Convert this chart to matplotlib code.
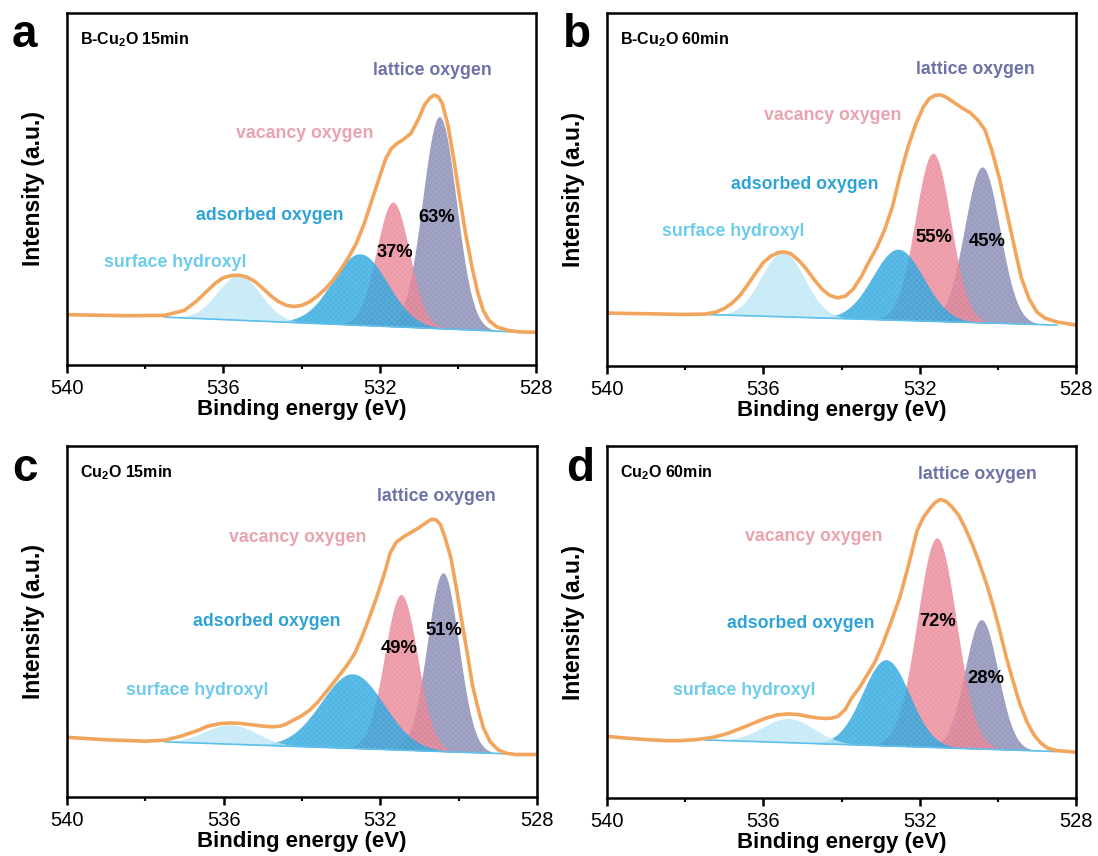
import numpy as np
import matplotlib
matplotlib.use("Agg")
import matplotlib.pyplot as plt

plt.rcParams['font.family'] = ['Liberation Sans', 'DejaVu Sans']
plt.rcParams['mathtext.fontset'] = 'custom'
plt.rcParams['mathtext.rm'] = 'Liberation Sans'
plt.rcParams['mathtext.bf'] = 'Liberation Sans:bold'
plt.rcParams['hatch.linewidth'] = 0.3

# binding energy axis, y in arbitrary units (0 = bottom of box, 100 = top)
titles = [r'B-Cu$_\mathbf{2}$O 15min', r'B-Cu$_\mathbf{2}$O 60min',
          r'Cu$_\mathbf{2}$O 15min', r'Cu$_\mathbf{2}$O 60min']
letters = ['a', 'b', 'c', 'd']
names = ['surface hydroxyl', 'adsorbed oxygen', 'vacancy oxygen', 'lattice oxygen']

env_a_x = [540.0, 538.5, 537.5, 537.0, 536.7, 536.4, 536.2, 536.0, 535.8, 535.6, 535.4, 535.2,
           535.0, 534.8, 534.6, 534.4, 534.2, 534.0, 533.8, 533.6, 533.4, 533.2, 533.0, 532.8,
           532.6, 532.4, 532.2, 532.0, 531.85, 531.7, 531.55, 531.4, 531.2, 531.0, 530.85,
           530.7, 530.6, 530.5, 530.4, 530.25, 530.1, 529.95, 529.8, 529.65, 529.5, 529.35,
           529.2, 529.0, 528.7, 528.4, 528.0]
env_a_y = [14.3, 14.0, 14.1, 15.5, 18.0, 21.2, 23.3, 24.8, 25.4, 25.5, 25.0, 23.8,
           21.9, 19.8, 18.1, 17.0, 16.6, 16.9, 17.9, 19.5, 21.5, 24.0, 27.0, 30.5,
           34.5, 40.0, 46.8, 53.5, 58.5, 61.5, 63.0, 64.0, 65.8, 70.0, 74.0,
           76.0, 76.7, 76.2, 74.4, 68.0, 58.2, 47.5, 37.3, 28.5, 21.0, 15.5,
           12.6, 10.8, 9.8, 9.4, 9.3]

env_b_x = [540.0, 539.0, 538.0, 537.5, 537.2, 537.0, 536.8, 536.6, 536.4, 536.2, 536.0, 535.8,
           535.6, 535.45, 535.3, 535.1, 534.9, 534.7, 534.5, 534.3, 534.1, 533.9, 533.7, 533.5,
           533.3, 533.1, 532.9, 532.7, 532.5, 532.3, 532.1, 531.9, 531.75, 531.6, 531.45,
           531.3, 531.1, 530.9, 530.7, 530.5, 530.33, 530.15, 529.95, 529.75, 529.56, 529.4,
           529.2, 529.0, 528.8, 528.5, 528.0]
env_b_y = [15.0, 14.8, 14.6, 14.7, 15.3, 16.3, 17.8, 20.0, 23.0, 26.3, 29.3, 31.2,
           32.2, 32.3, 31.8, 30.0, 27.5, 24.5, 21.8, 20.0, 19.3, 19.8, 21.8, 25.2,
           29.5, 33.5, 38.5, 45.0, 54.0, 62.0, 68.5, 73.5, 75.8, 76.7, 76.8,
           76.0, 74.5, 73.0, 71.7, 69.5, 66.9, 61.0, 52.7, 42.5, 32.9, 25.0,
           19.0, 15.3, 13.6, 12.5, 11.6]

env_c_x = [540.0, 539.0, 538.0, 537.5, 537.1, 536.7, 536.4, 536.1, 535.86, 535.6, 535.3, 535.0,
           534.76, 534.55, 534.4, 534.2, 534.0, 533.8, 533.6, 533.3, 533.05, 532.84, 532.65,
           532.48, 532.3, 532.1, 531.9, 531.75, 531.6, 531.4, 531.2, 531.02, 530.85, 530.7,
           530.58, 530.47, 530.35, 530.2, 530.05, 529.92, 529.78, 529.65, 529.5, 529.37,
           529.2, 529.0, 528.8, 528.55, 528.0]
env_c_y = [17.0, 16.3, 15.9, 16.2, 17.3, 18.8, 20.2, 20.9, 21.1, 21.0, 20.6, 20.2,
           20.0, 20.2, 20.8, 22.0, 23.2, 24.8, 27.0, 31.1, 34.6, 37.7, 41.0,
           45.3, 50.5, 56.7, 63.5, 69.5, 72.5, 74.2, 75.5, 76.7, 78.0, 79.1,
           79.0, 77.7, 74.0, 68.2, 59.0, 50.1, 41.0, 32.0, 25.0, 19.7,
           15.8, 13.5, 12.5, 12.1, 12.1]

env_d_x = [540.0, 539.5, 539.0, 538.5, 538.13, 537.7, 537.25, 536.9, 536.55, 536.2, 535.93,
           535.65, 535.36, 535.1, 534.88, 534.65, 534.44, 534.25, 534.09, 533.9, 533.74,
           533.55, 533.39, 533.15, 532.95, 532.75, 532.51, 532.3, 532.07, 531.9, 531.72,
           531.6, 531.47, 531.33, 531.19, 531.0, 530.84, 530.65, 530.49, 530.3, 530.13,
           529.95, 529.78, 529.6, 529.43, 529.25, 529.08, 528.9, 528.73, 528.5, 528.0]
env_d_y = [17.5, 17.0, 16.6, 16.3, 16.3, 16.6, 17.3, 18.4, 19.9, 21.5, 22.7,
           23.6, 23.9, 23.7, 23.2, 22.8, 22.6, 22.7, 23.2, 25.2, 28.4,
           31.2, 34.1, 38.5, 43.6, 49.5, 56.9, 65.5, 75.8, 79.8, 82.5,
           84.0, 84.8, 84.3, 82.9, 80.3, 76.8, 72.0, 67.3, 61.2, 55.0,
           47.5, 39.8, 32.8, 26.5, 21.5, 18.0, 15.6, 14.2, 13.5, 13.0]

# linear background under the fitted components: (left eV, left y, right eV, right y)
bg_a = [537.5, 13.6, 528.5, 9.4]
bg_b = [537.5, 14.6, 528.5, 11.6]
bg_c = [537.5, 15.7, 528.5, 12.2]
bg_d = [537.5, 16.5, 528.5, 13.2]

# fitted components: centre (eV), peak top (y), sigma (eV)
# order: surface hydroxyl, adsorbed, vacancy, lattice
cen_a = [535.6, 532.5, 531.66, 530.47]
top_a = [25.5, 31.6, 46.3, 70.6]
sig_a = [0.55, 0.70, 0.42, 0.43]

cen_b = [535.5, 532.55, 531.66, 530.4]
top_b = [32.3, 33.1, 60.3, 56.4]
sig_b = [0.55, 0.65, 0.45, 0.45]

cen_c = [535.81, 532.71, 531.47, 530.4]
top_c = [20.6, 35.1, 57.7, 63.9]
sig_c = [0.65, 0.80, 0.42, 0.40]

cen_d = [535.36, 532.86, 531.56, 530.42]
top_d = [22.6, 39.3, 73.9, 50.7]
sig_d = [0.65, 0.60, 0.50, 0.42]

pct_a = ['37%', '63%']
pct_b = ['55%', '45%']
pct_c = ['49%', '51%']
pct_d = ['72%', '28%']

# label positions (eV, y)
lab_a = [(537.24, 29.0), (534.81, 42.6), (533.91, 65.9), (530.64, 83.8)]
lab_b = [(536.78, 38.0), (534.93, 51.3), (534.22, 71.1), (530.58, 83.9)]
lab_c = [(536.68, 30.3), (534.90, 49.9), (534.12, 74.0), (530.56, 85.7)]
lab_d = [(536.50, 30.5), (535.05, 49.6), (534.70, 74.4), (530.53, 91.8)]
pctpos_a = [(531.61, 32.1), (530.53, 41.8)]
pctpos_b = [(531.63, 36.3), (530.28, 35.4)]
pctpos_c = [(531.52, 42.3), (530.38, 47.4)]
pctpos_d = [(531.54, 50.0), (530.31, 33.9)]

fill_cols = ['#bde7f6', '#2aa6de', '#e98595', '#8588b2']
text_cols = ['#6dcbec', '#2ea3d6', '#e9a3ad', '#6c71a6']
env_col = '#f2a55c'

panels = [
    (env_a_x, env_a_y, bg_a, cen_a, top_a, sig_a, pct_a, lab_a, pctpos_a),
    (env_b_x, env_b_y, bg_b, cen_b, top_b, sig_b, pct_b, lab_b, pctpos_b),
    (env_c_x, env_c_y, bg_c, cen_c, top_c, sig_c, pct_c, lab_c, pctpos_c),
    (env_d_x, env_d_y, bg_d, cen_d, top_d, sig_d, pct_d, lab_d, pctpos_d),
]

fig = plt.figure(figsize=(10.98, 8.56), dpi=100)
W, H = 1098.0, 856.0
boxes = [(67, 13, 536, 365), (607, 13, 1076, 366), (67, 446, 537, 797), (607, 446, 1076, 798)]
letter_pos = [(12, 47), (563, 47), (12, 481), (566, 481)]

for i, (ex, ey, bg, cen, top, sig, pct, lab, ppos) in enumerate(panels):
    x0, y0, x1, y1 = boxes[i]
    ax = fig.add_axes([x0 / W, 1 - y1 / H, (x1 - x0) / W, (y1 - y0) / H])

    xs = np.linspace(bg[0], bg[2], 400)
    base = bg[1] + (xs - bg[0]) * (bg[3] - bg[1]) / (bg[2] - bg[0])

    # draw lattice first so the lighter peaks sit on top
    for k in [3, 2, 1, 0]:
        b_c = bg[1] + (cen[k] - bg[0]) * (bg[3] - bg[1]) / (bg[2] - bg[0])
        amp = top[k] - b_c
        g = base + amp * np.exp(-0.5 * ((xs - cen[k]) / sig[k]) ** 2)
        ax.fill_between(xs, base, g, color=fill_cols[k], alpha=0.82, linewidth=0)
        ax.fill_between(xs, base, g, facecolor='none', edgecolor=(1, 1, 1, 0.18),
                        hatch='xxxxxx', linewidth=0)
    ax.plot(xs, base, color='#5cc0ea', lw=1.2)
    ax.plot(ex, ey, color=env_col, lw=2.6, solid_joinstyle='round', solid_capstyle='round')

    for k in range(4):
        ax.text(lab[k][0], lab[k][1], names[k], color=text_cols[k], fontsize=12.8,
                fontweight='bold', ha='center', va='center')
    for k in range(2):
        ax.text(ppos[k][0], ppos[k][1], pct[k], color='black', fontsize=13.2,
                fontweight='bold', ha='center', va='center')

    ax.text(0.028, 0.95, titles[i], transform=ax.transAxes, fontsize=11.5,
            fontweight='bold', ha='left', va='top')

    ax.set_xlim(540, 528)
    ax.set_ylim(0, 100)
    ax.set_xticks([540, 536, 532, 528])
    ax.set_xticks([538, 534, 530], minor=True)
    ax.set_yticks([])
    ax.tick_params(axis='x', which='major', direction='out', length=6, width=1.8,
                   labelsize=14.5, pad=4)
    ax.tick_params(axis='x', which='minor', direction='out', length=3, width=1.5)
    for s in ax.spines.values():
        s.set_linewidth(1.8)
    ax.set_xlabel('Binding energy (eV)', fontsize=16, fontweight='bold', labelpad=1)
    ax.set_ylabel('Intensity (a.u.)', fontsize=16.5, fontweight='bold')
    ax.yaxis.set_label_coords(-0.047, 0.5)

    lx, ly = letter_pos[i]
    fig.text(lx / W, 1 - ly / H, letters[i], fontsize=33, fontweight='bold',
             ha='left', va='baseline')

fig.savefig('out.png', dpi=100)
